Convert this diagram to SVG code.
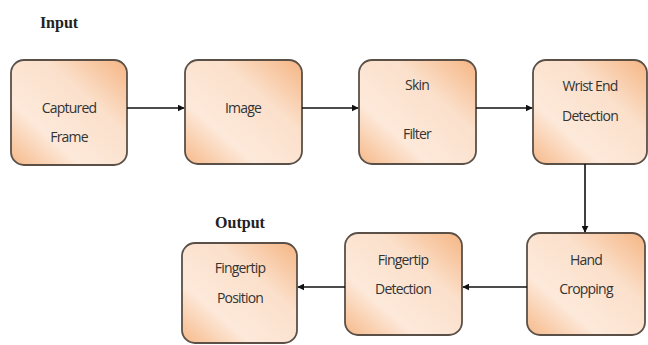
<svg xmlns="http://www.w3.org/2000/svg" width="648" height="345" viewBox="0 0 648 345">
<defs>
<linearGradient id="g" x1="0" y1="1" x2="1" y2="0">
<stop offset="0" stop-color="#f6b989"/>
<stop offset="0.3" stop-color="#fde9da"/>
<stop offset="0.65" stop-color="#fbe0cb"/>
<stop offset="1" stop-color="#f5b583"/>
</linearGradient>
<marker id="ah" viewBox="0 0 10 10" refX="9" refY="5" markerWidth="7" markerHeight="7" orient="auto" markerUnits="userSpaceOnUse">
<path d="M0,0 L10,5 L0,10 z" fill="#111"/>
</marker>
<style>
.box{fill:url(#g);stroke:#5a5048;stroke-width:1.8}
.t{font-family:"Open Sans","Liberation Sans",sans-serif;font-size:14px;fill:#333;text-anchor:middle;letter-spacing:-0.8px}
.h{font-family:"Liberation Serif",serif;font-size:16px;font-weight:bold;fill:#222;text-anchor:middle}
.c{stroke:#111;stroke-width:1.6;fill:none;marker-end:url(#ah)}
</style>
</defs>
<text class="h" x="59" y="28">Input</text>
<text class="h" x="240" y="228">Output</text>
<g id="captured-frame"><rect class="box" x="11" y="60" width="116" height="105" rx="13"/><text class="t" x="69" y="113">Captured</text><text class="t" x="69" y="142">Frame</text></g>
<g id="image"><rect class="box" x="185" y="60" width="117" height="104" rx="13"/><text class="t" x="243" y="113">Image</text></g>
<g id="skin-filter"><rect class="box" x="359" y="60" width="117" height="104" rx="13"/><text class="t" x="417" y="90">Skin</text><text class="t" x="417" y="139">Filter</text></g>
<g id="wrist-end"><rect class="box" x="533" y="60" width="114" height="104" rx="13"/><text class="t" x="590" y="91">Wrist End</text><text class="t" x="590" y="121">Detection</text></g>
<g id="hand-cropping"><rect class="box" x="527" y="233" width="118" height="102" rx="13"/><text class="t" x="586" y="265">Hand</text><text class="t" x="586" y="294">Cropping</text></g>
<g id="fingertip-detection"><rect class="box" x="345" y="233" width="117" height="102" rx="13"/><text class="t" x="403" y="265">Fingertip</text><text class="t" x="403" y="294">Detection</text></g>
<g id="fingertip-position"><rect class="box" x="182" y="243" width="115" height="100" rx="13"/><text class="t" x="240" y="273">Fingertip</text><text class="t" x="240" y="303">Position</text></g>
<g id="connectors">
<line class="c" x1="127" y1="108" x2="184" y2="108"/>
<line class="c" x1="302" y1="108" x2="358" y2="108"/>
<line class="c" x1="476" y1="108" x2="532" y2="108"/>
<line class="c" x1="585" y1="164" x2="585" y2="232"/>
<line class="c" x1="527" y1="287" x2="463" y2="287"/>
<line class="c" x1="345" y1="287" x2="298" y2="287"/>
</g>
</svg>
